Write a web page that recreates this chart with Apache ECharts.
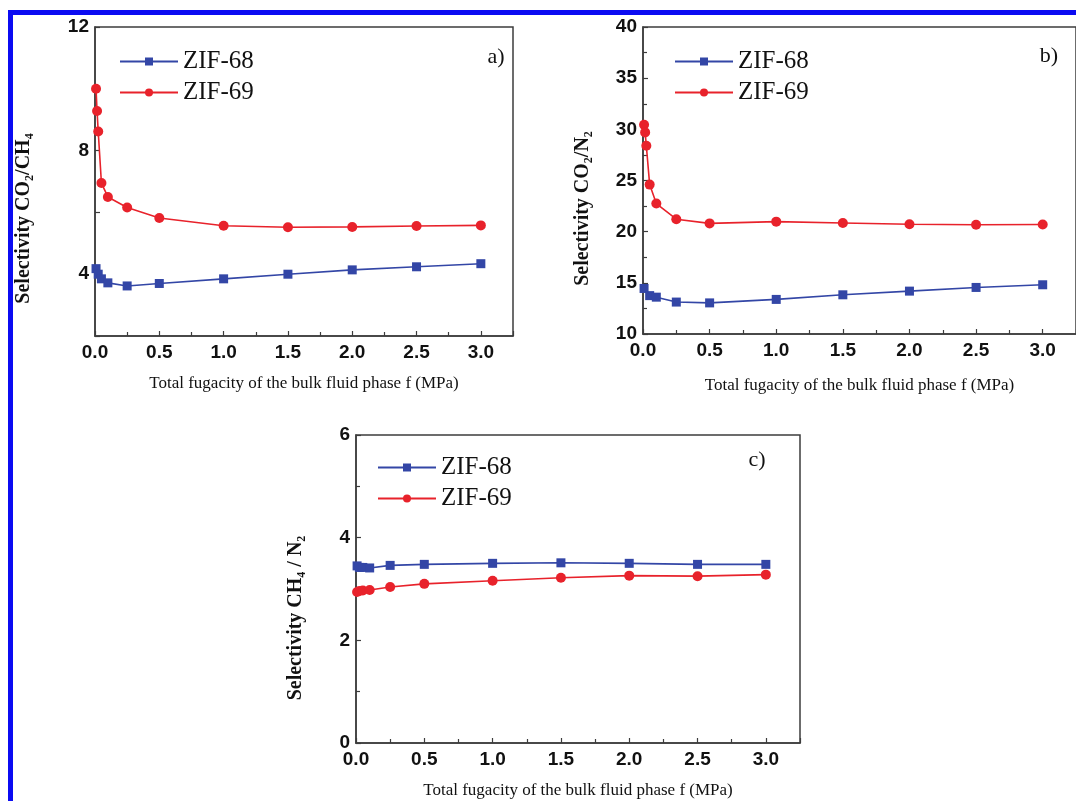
<!DOCTYPE html>
<html>
<head>
<meta charset="utf-8">
<script src="https://cdn.jsdelivr.net/npm/echarts@6/dist/echarts.min.js"></script>
<style>
html,body{margin:0;padding:0;background:#fff;}
#c{width:1076px;height:801px;}
</style>
</head>
<body>
<div id="c"></div>
<script>
// ---- data ----
const seriesNames = ['ZIF-68', 'ZIF-69'];
// panel a: Selectivity CO2/CH4
const aX68 = [0.008, 0.025, 0.05, 0.1, 0.25, 0.5, 1.0, 1.5, 2.0, 2.5, 3.0];
const aY68 = [4.18, 4.0, 3.85, 3.72, 3.62, 3.70, 3.85, 4.0, 4.14, 4.24, 4.34];
const aX69 = [0.008, 0.016, 0.025, 0.05, 0.1, 0.25, 0.5, 1.0, 1.5, 2.0, 2.5, 3.0];
const aY69 = [10.0, 9.28, 8.62, 6.95, 6.5, 6.16, 5.82, 5.57, 5.52, 5.53, 5.56, 5.58];
// panel b: Selectivity CO2/N2
const bX68 = [0.008, 0.05, 0.1, 0.25, 0.5, 1.0, 1.5, 2.0, 2.5, 3.0];
const bY68 = [14.45, 13.75, 13.6, 13.12, 13.04, 13.38, 13.83, 14.19, 14.55, 14.81];
const bX69 = [0.008, 0.016, 0.025, 0.05, 0.1, 0.25, 0.5, 1.0, 1.5, 2.0, 2.5, 3.0];
const bY69 = [30.45, 29.7, 28.4, 24.6, 22.75, 21.22, 20.81, 20.98, 20.85, 20.72, 20.68, 20.7];
// panel c: Selectivity CH4/N2
const cX68 = [0.008, 0.025, 0.05, 0.1, 0.25, 0.5, 1.0, 1.5, 2.0, 2.5, 3.0];
const cY68 = [3.45, 3.42, 3.42, 3.41, 3.46, 3.48, 3.50, 3.51, 3.50, 3.48, 3.48];
const cX69 = [0.008, 0.025, 0.05, 0.1, 0.25, 0.5, 1.0, 1.5, 2.0, 2.5, 3.0];
const cY69 = [2.94, 2.96, 2.97, 2.98, 3.04, 3.10, 3.16, 3.22, 3.26, 3.25, 3.28];
const xTitle = 'Total fugacity of the bulk fluid phase f (MPa)';
const panelLabels = ['a)', 'b)', 'c)'];

const pair = (xs, ys) => xs.map((x, i) => [x, ys[i]]);

const BLUE = '#3346a6';
const RED = '#e8222b';
const AX = '#3c3c3c';
const serif = 'Liberation Serif';
const sans = 'Liberation Sans';

const richSub = {
  t: {fontFamily: serif, fontWeight: 'bold', fontSize: 20, color: '#111', lineHeight: 24},
  s: {fontFamily: serif, fontWeight: 'bold', fontSize: 12, color: '#111', lineHeight: 12, verticalAlign: 'bottom'}
};

function xAxisDef(gi, max, gap) {
  return {
    type: 'value', gridIndex: gi, min: 0, max: max, interval: 0.5,
    name: xTitle, nameLocation: 'middle', nameGap: gap,
    nameTextStyle: {fontFamily: serif, fontSize: 17, color: '#111'},
    axisLine: {show: true, lineStyle: {color: AX, width: 1.5}},
    axisTick: {show: true, inside: true, length: 5, lineStyle: {color: AX, width: 1.2}},
    minorTick: {show: true, splitNumber: 2, length: 4, lineStyle: {color: AX, width: 1.2}},
    splitLine: {show: false},
    axisLabel: {fontFamily: sans, fontWeight: 'bold', fontSize: 19, color: '#111', margin: 7,
      showMaxLabel: false, formatter: v => v.toFixed(1)}
  };
}
function yAxisDef(gi, min, max, interval, name, gap, shift, fmt, minor) {
  return {
    type: 'value', gridIndex: gi, min: min, max: max, interval: interval,
    name: name, nameLocation: 'middle', nameGap: gap, nameRotate: 90,
    nameTextStyle: {rich: richSub, padding: [0, shift, 0, 0]},
    axisLine: {show: true, lineStyle: {color: AX, width: 1.5}},
    axisTick: {show: true, inside: true, length: 5, lineStyle: {color: AX, width: 1.2}},
    minorTick: {show: minor, splitNumber: 2, length: 4, lineStyle: {color: AX, width: 1.2}},
    splitLine: {show: false},
    axisLabel: {fontFamily: sans, fontWeight: 'bold', fontSize: 19, color: '#111', margin: 6,
      formatter: fmt || (v => String(v))}
  };
}
function line(name, xi, data, gi) {
  const is68 = name === 'ZIF-68';
  return {
    name: name, type: 'line', xAxisIndex: gi, yAxisIndex: gi, data: data,
    symbol: is68 ? 'rect' : 'circle', symbolSize: is68 ? 9 : 10,
    lineStyle: {color: is68 ? BLUE : RED, width: 1.6},
    itemStyle: {color: is68 ? BLUE : RED},
    emphasis: {disabled: true}, animation: false, clip: false
  };
}
function legendDef(left, top) {
  return {
    data: seriesNames, orient: 'vertical', left: left, top: top,
    itemWidth: 58, itemHeight: 10, itemGap: 6,
    textStyle: {fontFamily: serif, fontSize: 25, color: '#111', lineHeight: 24, padding: [0, 0, 0, 0]},
    selectedMode: false
  };
}

const chart = echarts.init(document.getElementById('c'));
chart.setOption({
  backgroundColor: '#fff',
  animation: false,
  grid: [
    {left: 95, top: 27, width: 418, height: 309, show: true, borderColor: AX, borderWidth: 1.5, backgroundColor: 'transparent'},
    {left: 643, top: 27, width: 441, height: 307, show: true, borderColor: AX, borderWidth: 1.5, backgroundColor: 'transparent'},
    {left: 356, top: 435, width: 444, height: 308, show: true, borderColor: AX, borderWidth: 1.5, backgroundColor: 'transparent'}
  ],
  xAxis: [xAxisDef(0, 3.25, 39), xAxisDef(1, 3.25, 43), xAxisDef(2, 3.25, 39)],
  yAxis: [
    yAxisDef(0, 2, 12, 2, '{t|Selectivity CO}{s|2}{t|/CH}{s|4}', 59, 74, v => (v % 4 === 0 ? String(v) : ''), false),
    yAxisDef(1, 10, 40, 5, '{t|Selectivity CO}{s|2}{t|/N}{s|2}', 48, 56, null, true),
    yAxisDef(2, 0, 6, 2, '{t|Selectivity CH}{s|4}{t| / N}{s|2}', 48, 58, null, true)
  ],
  legend: [legendDef(114, 44), legendDef(669, 44), legendDef(372, 450)],
  series: [
    line('ZIF-68', 0, pair(aX68, aY68), 0),
    line('ZIF-69', 0, pair(aX69, aY69), 0),
    line('ZIF-68', 1, pair(bX68, bY68), 1),
    line('ZIF-69', 1, pair(bX69, bY69), 1),
    line('ZIF-68', 2, pair(cX68, cY68), 2),
    line('ZIF-69', 2, pair(cX69, cY69), 2)
  ],
  graphic: [
    {type: 'rect', left: 8, top: 10, shape: {width: 1068, height: 5}, style: {fill: '#0b0bf2'}, silent: true},
    {type: 'rect', left: 8, top: 10, shape: {width: 5, height: 791}, style: {fill: '#0b0bf2'}, silent: true},
    {type: 'text', x: 496, y: 57, style: {text: panelLabels[0], font: '22px "Liberation Serif"', fill: '#111', align: 'center', verticalAlign: 'middle'}},
    {type: 'text', x: 1049, y: 56, style: {text: panelLabels[1], font: '22px "Liberation Serif"', fill: '#111', align: 'center', verticalAlign: 'middle'}},
    {type: 'text', x: 757, y: 460, style: {text: panelLabels[2], font: '22px "Liberation Serif"', fill: '#111', align: 'center', verticalAlign: 'middle'}}
  ]
});
</script>
</body>
</html>
